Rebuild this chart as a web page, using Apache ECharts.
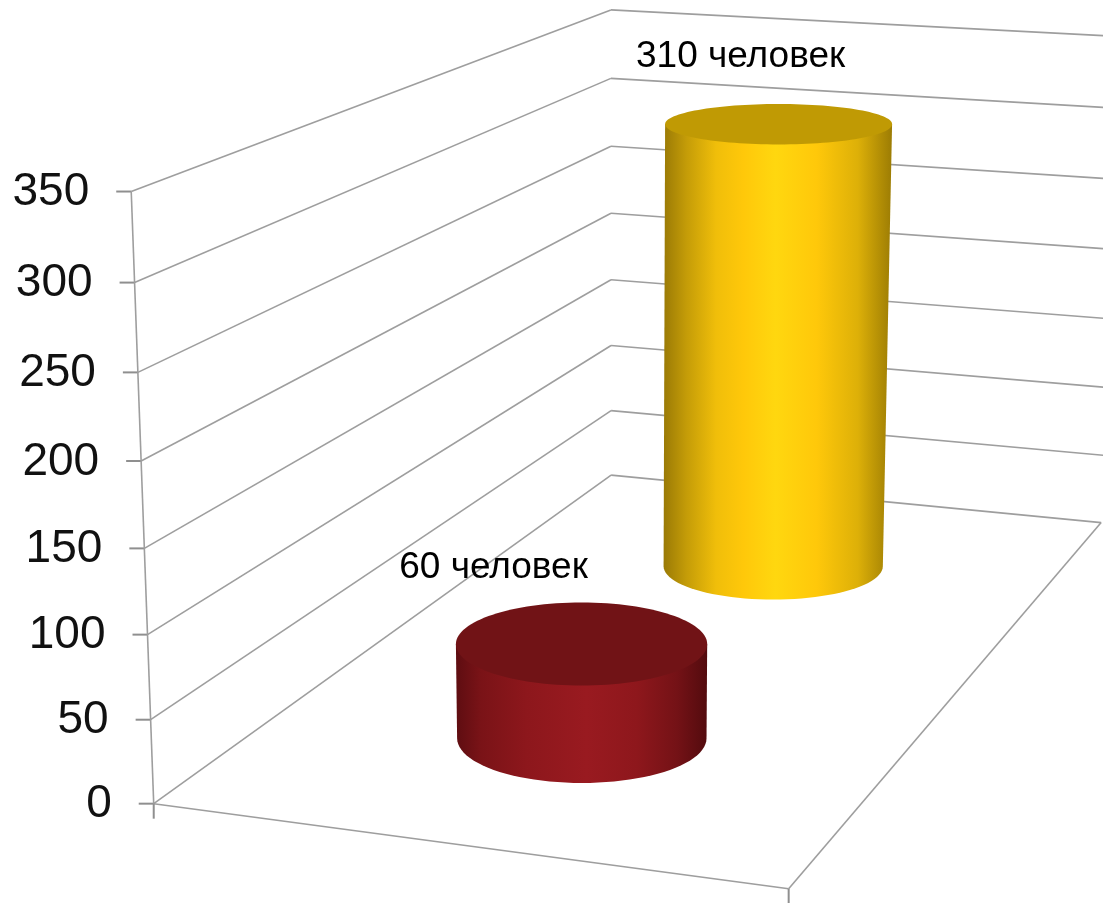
<!DOCTYPE html>
<html>
<head>
<meta charset="utf-8">
<style>html,body{margin:0;padding:0;background:#fff}#c{width:1103px;height:903px}</style>
<script src="https://cdn.jsdelivr.net/npm/echarts@6/dist/echarts.min.js"></script>
</head>
<body>
<div id="c"></div>
<script>
// ---- chart values ----
const yTicks = [0, 50, 100, 150, 200, 250, 300, 350];
const seriesNames = ['Ряд 1', 'Ряд 2'];
const seriesValues = [60, 310];
const dataLabels = ['60 человек', '310 человек'];

// ---- camera calibration: [along, depth, value share, screen x, screen y] ----
const yMax = 350;
const camera = [
  [0,0,0,154,804],[1,0,0,788,889],[0,1,0,612,475],[1,1,0,1101,522],
  [0,0,1,132,191],[0,1,1,610,10],[1,1,1,1120,37],
  [0,0,100/350,147,635],[0,0,250/350,138,372],[0,1,200/350,610.5,213],[0,1,100/350,611,346]
];
function solve(A, b) {
  const n = b.length, M = A.map((r, i) => r.concat(b[i]));
  for (let i = 0; i < n; i++) {
    let p = i;
    for (let k = i + 1; k < n; k++) if (Math.abs(M[k][i]) > Math.abs(M[p][i])) p = k;
    [M[i], M[p]] = [M[p], M[i]];
    for (let k = i + 1; k < n; k++) {
      const f = M[k][i] / M[i][i];
      for (let j = i; j <= n; j++) M[k][j] -= f * M[i][j];
    }
  }
  const x = new Array(n);
  for (let i = n - 1; i >= 0; i--) {
    let s = M[i][n];
    for (let j = i + 1; j < n; j++) s -= M[i][j] * x[j];
    x[i] = s / M[i][i];
  }
  return x;
}
const H = (function () {
  const rows = [], rhs = [];
  camera.forEach(([u, v, w, sx, sy]) => {
    const x = sx / 1000, y = sy / 1000;
    rows.push([u, v, w, 1, 0, 0, 0, 0, -x * u, -x * v, -x * w]); rhs.push(x);
    rows.push([0, 0, 0, 0, u, v, w, 1, -y * u, -y * v, -y * w]); rhs.push(y);
  });
  const n = 11;
  const AtA = [], Atb = [];
  for (let i = 0; i < n; i++) {
    AtA.push(new Array(n).fill(0)); Atb.push(0);
    rows.forEach((r, k) => {
      for (let j = 0; j < n; j++) AtA[i][j] += r[i] * r[j];
      Atb[i] += r[i] * rhs[k];
    });
  }
  return solve(AtA, Atb);
})();
// Perspective: along (0..1), depth (0..1), value (axis units) -> [x, y]
function project(u, v, val) {
  const w = val / yMax;
  const d = 1 + H[8] * u + H[9] * v + H[10] * w;
  return [
    1000 * (H[0] * u + H[1] * v + H[2] * w + H[3]) / d,
    1000 * (H[4] * u + H[5] * v + H[6] * w + H[7]) / d
  ];
}

const LINE = '#9E9E9E';
const FONT = '"Liberation Sans", Arial, sans-serif';
const G = echarts.graphic.LinearGradient;
const lineStyle = { stroke: LINE, lineWidth: 1.6, fill: null };

function seg(api, a, b, style) {
  const p = api.coord(a), q = api.coord(b);
  return { type: 'line', shape: { x1: p[0], y1: p[1], x2: q[0], y2: q[1] }, style: style || lineStyle };
}

function wallItem(params, api) {
  const val = api.value(0);
  const o = project(0, 0, val), b = project(0, 1, val), r = project(1, 1, val);
  const kids = [
    seg(api, o, b),
    seg(api, b, r),
    seg(api, [o[0] - 15, o[1]], o, { stroke: '#8F8F8F', lineWidth: 2, fill: null }),
    { type: 'text', style: {
        text: String(val), x: api.coord(o)[0] - 42, y: api.coord(o)[1] + 1, align: 'right', verticalAlign: 'middle',
        fontSize: 46, fontFamily: FONT, fill: '#111' } }
  ];
  return { type: 'group', children: kids };
}

function frameItem(params, api) {
  const O = project(0, 0, 0), U = project(1, 0, 0), R = project(1, 1, 0), T = project(0, 0, yMax);
  return { type: 'group', children: [
    seg(api, O, T), seg(api, O, U), seg(api, U, R),
    seg(api, O, [O[0], O[1] + 15], { stroke: '#8F8F8F', lineWidth: 2, fill: null }),
    seg(api, U, [U[0], U[1] + 15], { stroke: '#8F8F8F', lineWidth: 2, fill: null })
  ] };
}

// Cylinder section at a given value: horizontal ellipse sized by the perspective
function section(u, v, val, ru, rv) {
  const l = project(u - ru, v, val), r = project(u + ru, v, val);
  const f = project(u, v - rv, val), b = project(u, v + rv, val), c = project(u, v, val);
  return { cx: c[0], cy: (f[1] + b[1]) / 2, rx: (r[0] - l[0]) / 2, ry: (f[1] - b[1]) / 2 };
}

function cylinderSeries(idx, cfg) {
  const n = seriesValues.length;
  return {
    name: seriesNames[idx], type: 'custom', coordinateSystem: 'cartesian2d', clip: false, silent: true,
    z: 5,
    data: [[seriesValues[idx]]],
    encode: { y: 0 },
    renderItem: function (params, api) {
      const val = api.value(0);
      const u = 0.5, v = (idx === 0 ? 0.5 : n - 0.5) / n;
      const top = section(u, v, val, 0.211, 0.113), base = section(u, v, 0, 0.211, 0.113);
      const tc = api.coord([top.cx, top.cy + cfg.topDy]), bc = api.coord([base.cx, base.cy + cfg.baseDy]);
      const pts = [];
      pts.push([tc[0] - top.rx, tc[1]]);
      for (let i = 0; i <= 48; i++) {
        const a = Math.PI - Math.PI * i / 48;
        pts.push([bc[0] + base.rx * Math.cos(a), bc[1] + base.ry * Math.sin(a)]);
      }
      pts.push([tc[0] + top.rx, tc[1]]);
      return { type: 'group', children: [
        { type: 'polygon', shape: { points: pts },
          style: { fill: new G(0, 0, 1, 0, cfg.side), stroke: null } },
        { type: 'ellipse', shape: { cx: tc[0], cy: tc[1], rx: top.rx, ry: top.ry },
          style: { fill: new G(0, 0, 1, 0, cfg.top), stroke: null } },
        { type: 'text', z2: 10, style: {
            text: dataLabels[idx], x: tc[0] + cfg.labelDx, y: tc[1] + cfg.labelDy,
            align: 'center', verticalAlign: 'middle', fontSize: 37, fontFamily: FONT, fill: '#000' } }
      ] };
    }
  };
}

const chart = echarts.init(document.getElementById('c'), null, { renderer: 'canvas' });
chart.setOption({
  animation: false,
  backgroundColor: '#ffffff',
  grid: { left: 0, right: 0, top: 0, bottom: 0 },
  xAxis: { type: 'value', min: 0, max: 1103, show: false },
  yAxis: { type: 'value', min: 0, max: 903, inverse: true, show: false },
  series: [
    { type: 'custom', name: 'walls', coordinateSystem: 'cartesian2d', clip: false, silent: true, z: 1,
      data: yTicks.map(t => [t]), encode: { y: 0 }, renderItem: wallItem },
    { type: 'custom', name: 'frame', coordinateSystem: 'cartesian2d', clip: false, silent: true, z: 2,
      data: [[0]], encode: { y: 0 }, renderItem: frameItem },
    cylinderSeries(1, {
      topDy: 3, baseDy: -2, labelDx: -38, labelDy: -67,
      side: [
        { offset: 0, color: '#9A7A06' }, { offset: 0.1, color: '#C49C08' }, { offset: 0.23, color: '#F0BE0A' },
        { offset: 0.35, color: '#FFC80A' }, { offset: 0.49, color: '#FFD70F' }, { offset: 0.67, color: '#FFC80A' },
        { offset: 0.85, color: '#DDB008' }, { offset: 1, color: '#9C7C04' }
      ],
      top: [{ offset: 0, color: '#C09A04' }, { offset: 1, color: '#C09A04' }]
    }),
    cylinderSeries(0, {
      topDy: 1, baseDy: -1, labelDx: -88, labelDy: -76,
      side: [
        { offset: 0, color: '#5E0D11' }, { offset: 0.1, color: '#7A1317' }, { offset: 0.28, color: '#8D171C' },
        { offset: 0.52, color: '#991A20' }, { offset: 0.72, color: '#8E171C' }, { offset: 0.88, color: '#741216' },
        { offset: 1, color: '#530B0E' }
      ],
      top: [{ offset: 0, color: '#711316' }, { offset: 1, color: '#711316' }]
    })
  ]
});
</script>
</body>
</html>
